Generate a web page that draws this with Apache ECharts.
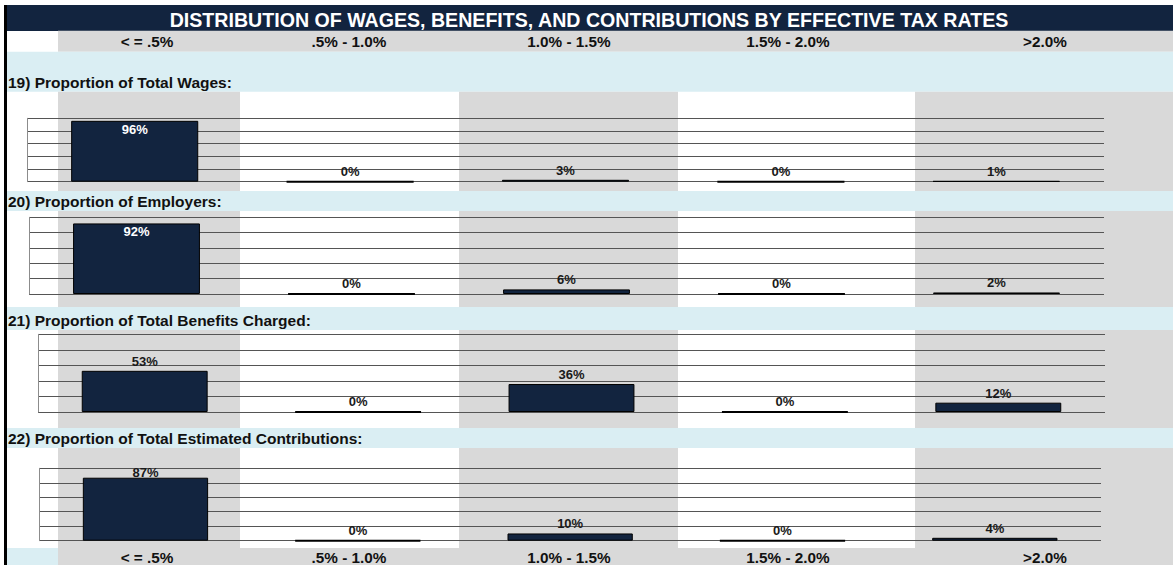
<!DOCTYPE html>
<html><head><meta charset="utf-8">
<script src="https://cdn.jsdelivr.net/npm/echarts@6/dist/echarts.min.js"></script>
<style>html,body{margin:0;padding:0;background:#fff}#c{width:1176px;height:565px}</style>
</head><body><div id="c"></div>
<script>
// ---------- data ----------
const chartTitle = 'DISTRIBUTION OF WAGES, BENEFITS, AND CONTRIBUTIONS BY EFFECTIVE TAX RATES';
const categories = ['< = .5%', '.5% - 1.0%', '1.0% - 1.5%', '1.5% - 2.0%', '>2.0%'];
const panelTitles = [
  '19) Proportion of Total Wages:',
  '20) Proportion of Employers:',
  '21) Proportion of Total Benefits Charged:',
  '22) Proportion of Total Estimated Contributions:'
];
const wages = [0.96, 0, 0.03, 0, 0.01];
const employers = [0.92, 0, 0.06, 0, 0.02];
const benefits = [0.53, 0, 0.36, 0, 0.12];
const contributions = [0.87, 0, 0.10, 0, 0.04];
const seriesValues = [wages, employers, benefits, contributions];

// ---------- layout ----------
const FONT = '"Liberation Sans", Arial, Helvetica, sans-serif';
const NAVY = '#12243f', GRAY = '#d9d9d9', BLUE = '#daeef3';
const headerCenters = [147, 349, 569, 788, 1045];
const shadedCols = [[58, 240], [459, 678], [915, 1173]];
const bands = [[51.7, 91.7], [191, 211], [307, 330], [428, 448]];
const chartRows = [[91.7, 191], [211, 307], [330, 428], [448, 548]];
const grids = [
  {left: 27, top: 118.3, width: 1077, height: 63.4},
  {left: 29, top: 217.3, width: 1075, height: 76.7},
  {left: 38, top: 334.3, width: 1067, height: 77.7},
  {left: 39.3, top: 468.3, width: 1061.7, height: 72.4}
];

const graphics = [];
const rect = (x, y, w, h, fill, z) => graphics.push({type: 'rect', z: z == null ? -10 : z, silent: true,
  shape: {x, y, width: w, height: h}, style: {fill}});
const text = (t, x, y, size, fill, align) => graphics.push({type: 'text', z: 20, silent: true,
  style: {text: t, x, y, fill, fontSize: size, fontWeight: 'bold', fontFamily: FONT,
    textAlign: align || 'center', textVerticalAlign: 'middle', verticalAlign: 'middle'}});

// title bar + frame
rect(4, 5, 1169, 26, NAVY);
rect(4, 5, 3, 560, '#000', -5);
text(chartTitle, 589, 19.5, 19.6, '#fff');
// header row
rect(58, 30.7, 1115, 21, GRAY);
categories.forEach((c, i) => text(c, headerCenters[i], 41.5, 15.3, '#111'));
// panels
bands.forEach((b, i) => {
  rect(7, b[0], 1166, b[1] - b[0], BLUE);
  text(panelTitles[i], 8, b[1] - 9.5, 15.5, '#111', 'left');
});
chartRows.forEach(r => shadedCols.forEach(c => rect(c[0], r[0], c[1] - c[0], r[1] - r[0], GRAY)));
// footer row
rect(7, 548, 51, 17, BLUE);
rect(58, 548, 1115, 17, GRAY);
categories.forEach((c, i) => text(c, headerCenters[i], 557.5, 15.3, '#111'));

const chart = echarts.init(document.getElementById('c'), null, {renderer: 'svg'});
chart.setOption({
  animation: false,
  backgroundColor: '#fff',
  graphic: graphics,
  grid: grids.map(g => Object.assign({containLabel: false}, g)),
  xAxis: grids.map((g, i) => ({
    type: 'category', gridIndex: i, data: categories,
    axisLine: {show: false}, axisTick: {show: false}, axisLabel: {show: false}, splitLine: {show: false}
  })),
  yAxis: grids.map((g, i) => ({
    type: 'value', gridIndex: i, min: 0, max: 1, interval: 0.2,
    axisLine: {show: true, lineStyle: {color: '#8c8c8c', width: 1}},
    axisTick: {show: false}, axisLabel: {show: false},
    splitLine: {show: true, lineStyle: {color: '#555', width: 1}}
  })),
  series: seriesValues.map((vals, i) => ({
    type: 'bar', xAxisIndex: i, yAxisIndex: i, barWidth: '59%',
    data: vals.map(v => {
      const d = {value: v};
      if (v >= 0.9) d.label = {position: 'insideTop', color: '#fff', distance: 2};
      if (v === 0) d.itemStyle = {borderWidth: 2};
      return d;
    }),
    itemStyle: {color: NAVY, borderColor: '#000', borderWidth: 1},
    label: {
      show: true, position: 'top', distance: 3, color: '#1a1a1a',
      fontSize: 13, fontWeight: 'bold', fontFamily: FONT,
      formatter: p => Math.round(p.value * 100) + '%'
    },
    labelLayout: params => {
      const minY = grids[params.seriesIndex].top - 2;
      return params.labelRect.y < minY ? {dy: minY - params.labelRect.y} : {};
    }
  }))
});
</script>
</body></html>
